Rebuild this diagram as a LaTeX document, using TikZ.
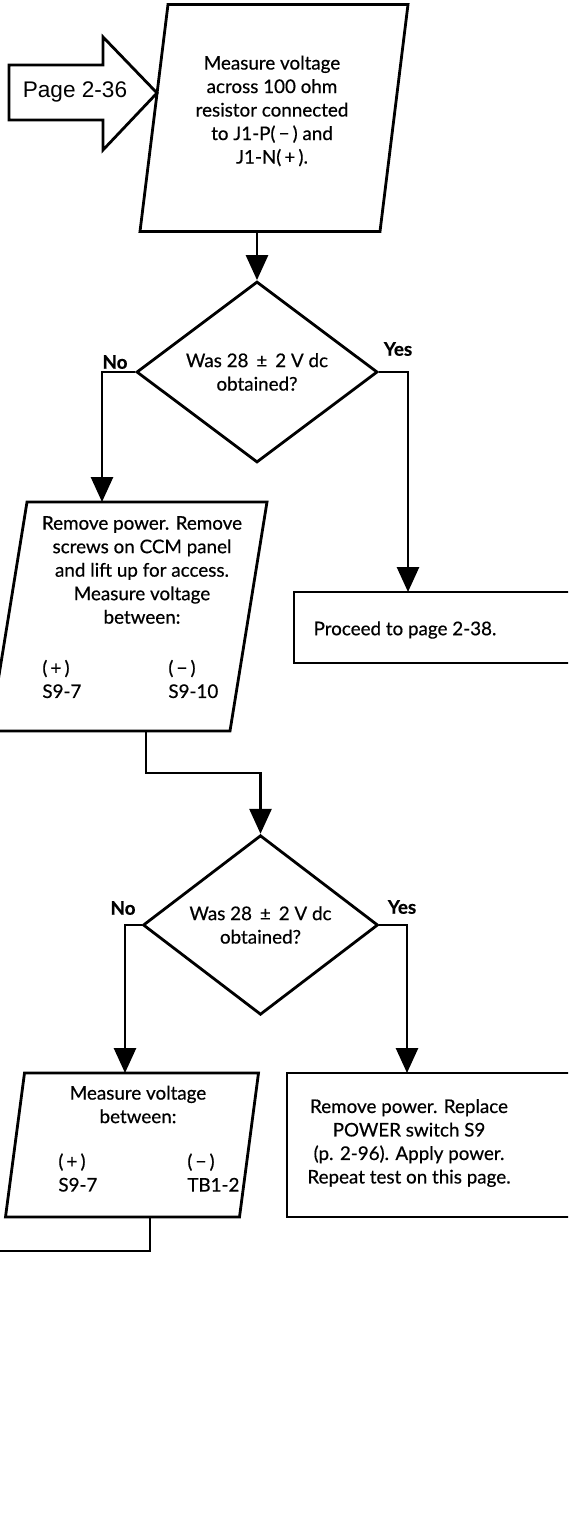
\documentclass[tikz,border=0pt]{standalone}
\usepackage{fontspec}
\setmainfont{Lato}[FakeBold=0.5]
\newfontfamily\arrowfont{Liberation Sans}
\usepackage{tikz}
\usetikzlibrary{arrows.meta,calc,shapes.geometric}
\newcommand{\txtfont}{\fontsize{9.4}{11.75}\selectfont}
\newcommand{\slantbox}[2]{%
  \draw[thickline] ($(#1.north west)+(#2,0)$) -- ($(#1.north east)+(#2,0)$)
    -- ($(#1.south east)-(#2,0)$) -- ($(#1.south west)-(#2,0)$) -- cycle;}

\begin{document}
\begin{tikzpicture}[x=0.5pt,y=-0.5pt,
  thickline/.style={line width=1.4pt,line join=miter},
  arr/.style={thickline,-{Triangle[length=12.5pt,width=11pt]}},
  frame/.style={draw,thickline,inner sep=0pt,outer sep=0pt,anchor=north west},
  slant/.style={inner sep=0pt,outer sep=0pt},
  decide/.style={draw,thickline,diamond,inner sep=0pt,align=center,font=\txtfont},
  txt/.style={align=center,inner sep=0pt,font=\txtfont},
  pin/.style={align=left,inner sep=0pt,anchor=west,font=\txtfont},
  lab/.style={inner sep=0pt,font=\txtfont\bfseries}]
\path[use as bounding box,clip] (0,0) rectangle (568,1520);

% entry from previous page
\draw[thickline] (9,65) -- (103,65) -- (103,37) -- (157,93) -- (103,150) -- (103,120) -- (9,120) -- cycle;
\node[font=\arrowfont\fontsize{11.3}{13}\selectfont] (pg) at (75,92) {Page 2-36};

% first measurement
\node[slant,minimum width=120pt,minimum height=113.5pt] (m1) at (274,118) {};
\slantbox{m1}{14}
\node[txt] (m1t) at (272,111) {Measure voltage\\across 100 ohm\\resistor connected\\to J1-P(\,−\,) and\\J1-N(\,+\,).};

\node[decide,minimum width=120.5pt,minimum height=90.5pt] (d1) at (257,372) {Was 28 \,±\, 2 V dc\\obtained?};
\draw[arr] (d1.north |- m1.south) -- (d1.north);
\node[lab] (no1) at (115,362) {No};
\node[lab] (yes1) at (398,349) {Yes};

% no: check at S9
\node[slant,minimum width=120pt,minimum height=114.5pt] (m2) at (128.5,616.5) {};
\slantbox{m2}{18.5}
\node[txt] (m2t) at (142,570) {Remove power. Remove\\screws on CCM panel\\and lift up for access.\\Measure voltage\\between:};
\node[pin] (m2a) at (42,679) {(\,+\,)\\S9-7};
\node[pin] (m2b) at (168,679) {(\,−\,)\\S9-10};
\draw[arr] (d1.west) -| ($(m2.north)+(-26.5,0)$);

% yes
\node[frame,minimum width=160pt,minimum height=35.5pt] (p3) at (294,592) {};
\node[txt] (p3t) at (405,630) {Proceed to page 2-38.};
\draw[arr] (d1.east) -| ($(p3.north west)+(114,0)$);

\node[decide,minimum width=117.5pt,minimum height=88pt] (d2) at (260.5,925) {Was 28 \,±\, 2 V dc\\obtained?};
\draw[arr] ($(m2.south)+(17.5,0)$) -- ++(0,42) -| (d2.north);
\node[lab] (no2) at (123,908) {No};
\node[lab] (yes2) at (402,907) {Yes};

% no: check at TB1
\node[slant,minimum width=117pt,minimum height=72pt] (m4) at (132,1145) {};
\slantbox{m4}{9.5}
\node[txt] (m4t) at (138,1104.5) {Measure voltage\\between:};
\node[pin] (m4a) at (58,1172.5) {(\,+\,)\\S9-7};
\node[pin] (m4b) at (187,1172.5) {(\,−\,)\\TB1-2};
\draw[arr] (d2.west) -| ($(m4.north)+(-7,0)$);

% yes: replace switch
\node[frame,minimum width=160pt,minimum height=72pt] (p5) at (287,1073) {};
\node[txt] (p5t) at (409,1143) {Remove power. Replace\\POWER switch S9\\(p. 2-96). Apply power.\\Repeat test on this page.};
\draw[arr] (d2.east) -| ($(p5.north west)+(120,0)$);

\coordinate (exit) at (-5,1251);
\draw[thickline] ($(m4.south)+(18,0)$) |- (exit);
\end{tikzpicture}
\end{document}
